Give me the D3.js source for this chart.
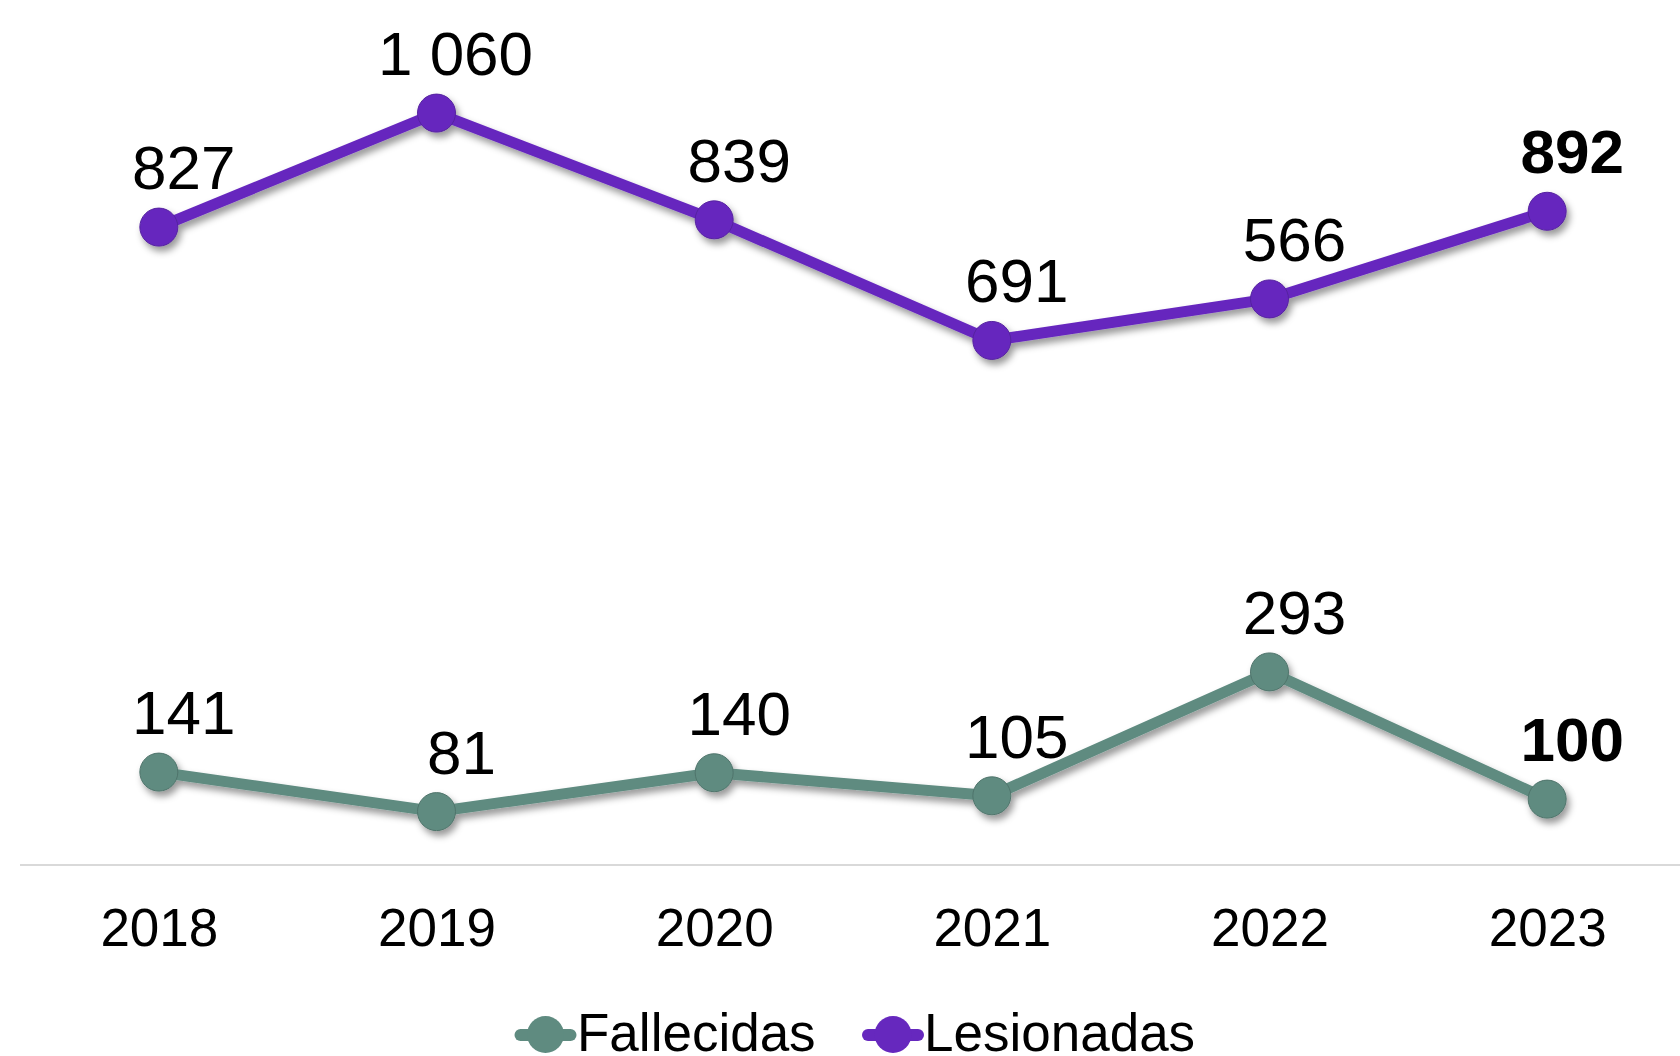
<!DOCTYPE html>
<html>
<head>
<meta charset="utf-8">
<script src="https://cdn.jsdelivr.net/npm/d3@7"></script>
<style>
  html, body { margin: 0; padding: 0; background: #fff; }
  svg { display: block; }
  text { font-family: "Liberation Sans", Arial, sans-serif; fill: #000; }
</style>
</head>
<body>
<svg id="chart" width="1680" height="1056"></svg>
<script>
const years = ["2018", "2019", "2020", "2021", "2022", "2023"];
const fallecidas = [141, 81, 140, 105, 293, 100];
const lesionadas = [827, 1060, 839, 691, 566, 892];
const seriesNames = ["Fallecidas", "Lesionadas"];
const seriesColors = ["#5f8b80", "#6628be"];

const svg = d3.select("#chart");
const W = 1680, H = 1056;

const defs = svg.append("defs");
const f = defs.append("filter").attr("id", "shadow")
  .attr("x", "-20%").attr("y", "-20%").attr("width", "140%").attr("height", "160%");
f.append("feDropShadow").attr("dx", 3).attr("dy", 5).attr("stdDeviation", 3.5)
  .attr("flood-color", "#000").attr("flood-opacity", 0.4);

const x = d3.scalePoint().domain(years).range([20, 1686]).padding(0.5);
const y = d3.scaleLinear().domain([0, 1200]).range([865, 74.2]);

// stacked data
const stackInput = years.map((yr, i) => ({ year: yr, Fallecidas: fallecidas[i], Lesionadas: lesionadas[i] }));
const stacked = d3.stack().keys(seriesNames)(stackInput);

// axis baseline
svg.append("line")
  .attr("x1", 20).attr("x2", W)
  .attr("y1", y(0)).attr("y2", y(0))
  .attr("stroke", "#d9d9d9").attr("stroke-width", 2);

// x axis labels
const xAxis = d3.axisBottom(x).tickSize(0).tickPadding(0);
const gx = svg.append("g").attr("transform", `translate(0,${y(0)})`).call(xAxis);
gx.select(".domain").remove();
gx.selectAll("text")
  .attr("dy", null).attr("y", 81)
  .style("font-size", "53px")
  .style("font-family", "'Liberation Sans', Arial, sans-serif")
  .attr("fill", "#000");

const line = d3.line().x(d => x(d.data.year)).y(d => y(d[1]));

stacked.forEach((s, si) => {
  const g = svg.append("g").attr("filter", "url(#shadow)");
  g.append("path")
    .datum(s)
    .attr("d", line)
    .attr("fill", "none")
    .attr("stroke", seriesColors[si])
    .attr("stroke-width", 11)
    .attr("stroke-linejoin", "round");
  g.selectAll("circle")
    .data(s)
    .join("circle")
    .attr("cx", d => x(d.data.year))
    .attr("cy", d => y(d[1]))
    .attr("r", 19)
    .attr("fill", seriesColors[si])
    .attr("stroke", d3.color(seriesColors[si]).darker(0.5))
    .attr("stroke-width", 1);
});

// data labels
const fmt = v => v >= 1000 ? d3.format(",")(v).replace(",", " ") : String(v);
stacked.forEach((s, si) => {
  svg.append("g").selectAll("text")
    .data(s)
    .join("text")
    .attr("x", d => x(d.data.year) + (d.data[s.key] >= 1000 ? 19 : 25))
    .attr("y", d => y(d[1]) - 38)
    .attr("text-anchor", "middle")
    .style("font-size", "62px")
    .style("font-weight", (d, i) => i === years.length - 1 ? "bold" : "normal")
    .text(d => fmt(d.data[s.key]));
});

// legend
const legendItems = [
  { name: seriesNames[0], color: seriesColors[0], cx: 545.5, tx: 577 },
  { name: seriesNames[1], color: seriesColors[1], cx: 893, tx: 924 }
];
const lg = svg.append("g");
legendItems.forEach(it => {
  lg.append("line")
    .attr("x1", it.cx - 25).attr("x2", it.cx + 25)
    .attr("y1", 1035).attr("y2", 1035)
    .attr("stroke", it.color).attr("stroke-width", 12).attr("stroke-linecap", "round");
  lg.append("circle").attr("cx", it.cx).attr("cy", 1034.5).attr("r", 18.5).attr("fill", it.color);
  lg.append("text").attr("x", it.tx).attr("y", 1051)
    .style("font-size", "53px").text(it.name);
});
</script>
</body>
</html>
